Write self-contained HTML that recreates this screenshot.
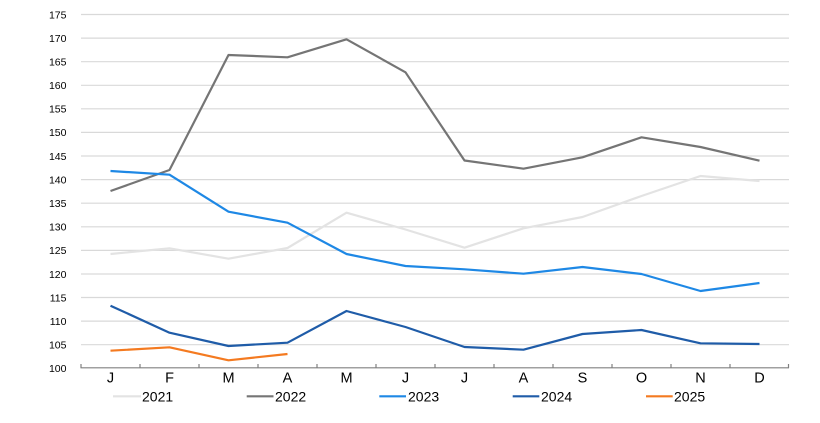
<!DOCTYPE html>
<html>
<head>
<meta charset="utf-8">
<style>
html,body{margin:0;padding:0;background:#fff;}
svg{display:block;}
text{font-family:"Liberation Sans",Arial,sans-serif;fill:#000;}
</style>
</head>
<body>
<svg width="820" height="423" viewBox="0 0 820 423" xmlns="http://www.w3.org/2000/svg">
<g stroke="#d9d9d9" stroke-width="1.2">
<line x1="81" y1="14.5" x2="789" y2="14.5"/>
<line x1="81" y1="38.1" x2="789" y2="38.1"/>
<line x1="81" y1="61.7" x2="789" y2="61.7"/>
<line x1="81" y1="85.3" x2="789" y2="85.3"/>
<line x1="81" y1="108.8" x2="789" y2="108.8"/>
<line x1="81" y1="132.4" x2="789" y2="132.4"/>
<line x1="81" y1="156.0" x2="789" y2="156.0"/>
<line x1="81" y1="179.6" x2="789" y2="179.6"/>
<line x1="81" y1="203.2" x2="789" y2="203.2"/>
<line x1="81" y1="226.8" x2="789" y2="226.8"/>
<line x1="81" y1="250.4" x2="789" y2="250.4"/>
<line x1="81" y1="274.0" x2="789" y2="274.0"/>
<line x1="81" y1="297.5" x2="789" y2="297.5"/>
<line x1="81" y1="321.1" x2="789" y2="321.1"/>
<line x1="81" y1="344.7" x2="789" y2="344.7"/>
</g>
<g stroke="#808080" stroke-width="1.2">
<line x1="80.5" y1="367.8" x2="789" y2="367.8"/>
<line x1="81" y1="364" x2="81" y2="368"/>
<line x1="140" y1="364" x2="140" y2="368"/>
<line x1="199" y1="364" x2="199" y2="368"/>
<line x1="258" y1="364" x2="258" y2="368"/>
<line x1="317" y1="364" x2="317" y2="368"/>
<line x1="376" y1="364" x2="376" y2="368"/>
<line x1="435" y1="364" x2="435" y2="368"/>
<line x1="494" y1="364" x2="494" y2="368"/>
<line x1="553" y1="364" x2="553" y2="368"/>
<line x1="612" y1="364" x2="612" y2="368"/>
<line x1="671" y1="364" x2="671" y2="368"/>
<line x1="730" y1="364" x2="730" y2="368"/>
<line x1="788.5" y1="364" x2="788.5" y2="368"/>
</g>
<g font-size="10.5" text-anchor="end">
<text x="66.5" y="18.3">175</text>
<text x="66.5" y="41.9">170</text>
<text x="66.5" y="65.5">165</text>
<text x="66.5" y="89.1">160</text>
<text x="66.5" y="112.6">155</text>
<text x="66.5" y="136.2">150</text>
<text x="66.5" y="159.8">145</text>
<text x="66.5" y="183.4">140</text>
<text x="66.5" y="207.0">135</text>
<text x="66.5" y="230.6">130</text>
<text x="66.5" y="254.2">125</text>
<text x="66.5" y="277.8">120</text>
<text x="66.5" y="301.3">115</text>
<text x="66.5" y="324.9">110</text>
<text x="66.5" y="348.5">105</text>
<text x="66.5" y="372.1">100</text>
</g>
<g font-size="14.5" text-anchor="middle">
<text x="110.5" y="382.5">J</text>
<text x="169.5" y="382.5">F</text>
<text x="228.5" y="382.5">M</text>
<text x="287.5" y="382.5">A</text>
<text x="346.5" y="382.5">M</text>
<text x="405.5" y="382.5">J</text>
<text x="464.5" y="382.5">J</text>
<text x="523.5" y="382.5">A</text>
<text x="582.5" y="382.5">S</text>
<text x="641.5" y="382.5">O</text>
<text x="700.5" y="382.5">N</text>
<text x="759.5" y="382.5">D</text>
</g>
<g fill="none" stroke-width="2.2" stroke-linejoin="round">
<polyline stroke="#e3e3e3" points="110.5,254 169.5,248.3 228.5,258.7 287.5,248 346.5,212.7 405.5,229.5 464.5,247.7 523.5,228.3 582.5,217 641.5,196 700.5,176 759.5,181"/>
<polyline stroke="#757575" points="110.5,191 169.5,170 228.5,55 287.5,57.3 346.5,39.3 405.5,72.3 464.5,160.5 523.5,168.7 582.5,157.3 641.5,137.3 700.5,147 759.5,160.7"/>
<polyline stroke="#1e88e5" points="110.5,171 169.5,174.7 228.5,211.7 287.5,222.7 346.5,254 405.5,266 464.5,269.3 523.5,273.7 582.5,267 641.5,274 700.5,291 759.5,283"/>
<polyline stroke="#1f5ca8" points="110.5,305.7 169.5,332.7 228.5,346 287.5,342.7 346.5,311 405.5,327 464.5,347 523.5,349.7 582.5,334 641.5,330 700.5,343.3 759.5,344"/>
<polyline stroke="#f47a20" points="110.5,350.7 169.5,347.3 228.5,360.3 287.5,354"/>
</g>
<g stroke-width="2.2">
<line x1="113" y1="396.3" x2="141" y2="396.3" stroke="#e3e3e3"/>
<line x1="246.7" y1="396.3" x2="273.5" y2="396.3" stroke="#757575"/>
<line x1="379.3" y1="396.3" x2="406" y2="396.3" stroke="#1e88e5"/>
<line x1="512.7" y1="396.3" x2="539.3" y2="396.3" stroke="#1f5ca8"/>
<line x1="646" y1="396.3" x2="672.7" y2="396.3" stroke="#f47a20"/>
</g>
<g font-size="14">
<text x="142" y="401.3">2021</text>
<text x="275" y="401.3">2022</text>
<text x="408" y="401.3">2023</text>
<text x="541" y="401.3">2024</text>
<text x="674" y="401.3">2025</text>
</g>
</svg>
</body>
</html>
